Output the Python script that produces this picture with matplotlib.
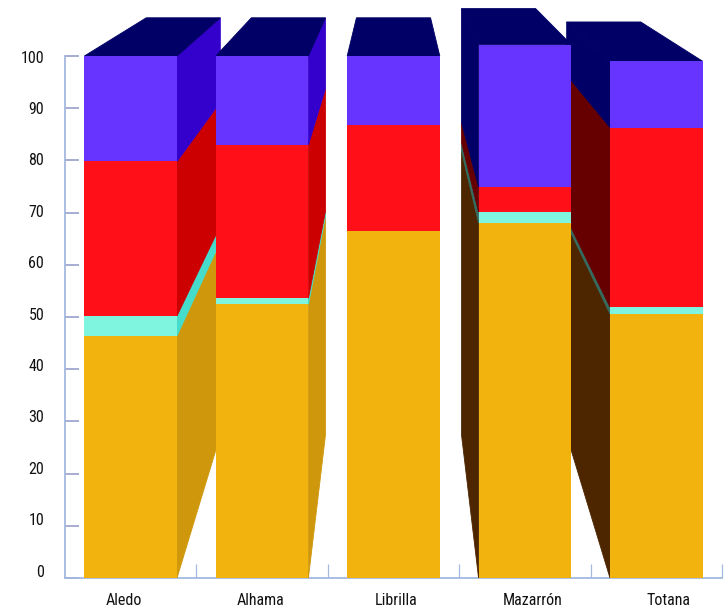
#!/usr/bin/env python3
"""Stacked 3D perspective columns, drawn by hand on a flat axes."""

import matplotlib
matplotlib.use("Agg")
import matplotlib.pyplot as plt
from matplotlib.transforms import ScaledTranslation

WIDTH, HEIGHT = 724, 610

towns = ["Aledo", "Alhama", "Librilla", "Mazarrón", "Totana"]

# Stack segments, bottom to top
orange = [46.4, 52.4, 66.4, 68.0, 50.6]
teal   = [3.8, 1.2, 0.0, 2.1, 1.3]
red    = [29.6, 29.4, 20.3, 4.8, 34.4]
purple = [20.2, 17.0, 13.3, 27.3, 12.7]

y_ticks = [0, 10, 20, 30, 40, 50, 60, 70, 80, 90, 100]

FRONT      = ["#f3b30f", "#7ff5e0", "#ff1018", "#6633ff"]
SIDE_RIGHT = ["#cf980c", "#45dccb", "#cc0000", "#3300cc"]
SIDE_LEFT  = ["#4d2600", "#336b5f", "#660000", "#000066"]
TOP        = "#000066"
AXIS_COL   = "#a3b9e0"
TICK_COL   = "#8f96c8"
TEXT_COL   = "#111111"

BAR_W   = 0.705
DEPTH   = 0.8     # back face scale towards the vanishing point
VANISH  = (2.0, 136.6)
Z       = 3

plt.rcParams["font.family"] = ["Roboto Condensed", "DejaVu Sans"]


def back(x, y):
    return (VANISH[0] + DEPTH * (x - VANISH[0]),
            VANISH[1] + DEPTH * (y - VANISH[1]))


def draw_column(ax, i):
    xl, xr = i - BAR_W / 2, i + BAR_W / 2
    segments = [orange[i], teal[i], red[i], purple[i]]

    # sides first, front goes over them
    if i != 2:
        edge = xr if i < 2 else xl
        colours = SIDE_RIGHT if i < 2 else SIDE_LEFT
        base = 0.0
        for seg, col in zip(segments, colours):
            if seg > 0:
                b0, b1 = back(edge, base), back(edge, base + seg)
                ax.fill([edge, b0[0], b1[0], edge], [base, b0[1], b1[1], base + seg],
                        facecolor=col, edgecolor=col, lw=0.6, clip_on=False, zorder=Z)
            base += seg

    total = sum(segments)
    bl, br = back(xl, total), back(xr, total)
    ax.fill([xl, xr, br[0], bl[0]], [total, total, br[1], bl[1]],
            facecolor=TOP, edgecolor=TOP, lw=0.6, clip_on=False, zorder=Z)

    bottom = 0.0
    for seg, col in zip(segments, FRONT):
        if seg > 0:
            ax.bar(i, seg, BAR_W, bottom=bottom, color=col, lw=0,
                   clip_on=False, zorder=Z)
        bottom += seg


def main():
    fig = plt.figure(figsize=(WIDTH / 100, HEIGHT / 100), dpi=100)
    ax = fig.add_axes([65 / WIDTH, 32 / HEIGHT, 657 / WIDTH, 522 / HEIGHT])

    # outer columns first so the ones near the middle overlap them
    for i in [0, 1, 4, 3, 2]:
        draw_column(ax, i)

    ax.set_xlim(-0.5, 4.5)
    ax.set_ylim(0, 100)

    for side in ("top", "right"):
        ax.spines[side].set_visible(False)
    for side in ("left", "bottom"):
        ax.spines[side].set_color(AXIS_COL)
        ax.spines[side].set_linewidth(1.3)

    ax.set_yticks(y_ticks)
    ax.set_yticklabels([str(v) for v in y_ticks], fontsize=11.5, color=TEXT_COL)
    ax.tick_params(axis="y", direction="in", length=10, width=1.1, color=TICK_COL, pad=15)

    ax.set_xticks(range(len(towns)))
    ax.set_xticklabels(towns, fontsize=11.5, color=TEXT_COL)
    ax.set_xticks([i + 0.5 for i in range(len(towns))], minor=True)
    ax.tick_params(axis="x", which="major", length=0, pad=11)
    ax.tick_params(axis="x", which="minor", direction="in", length=10, width=0.9, color=AXIS_COL)

    # labels in the original sit slightly off their ticks
    for v, lab in zip(y_ticks, ax.get_yticklabels()):
        dy = (7.3 - 0.079 * v) / 100
        lab.set_transform(lab.get_transform() + ScaledTranslation(0, dy, fig.dpi_scale_trans))
    for i, lab in enumerate(ax.get_xticklabels()):
        dx = (2.7 + (i - 2) * 4.8) / 100
        lab.set_transform(lab.get_transform() + ScaledTranslation(dx, 0, fig.dpi_scale_trans))

    fig.savefig("out.png", dpi=100)
    plt.close(fig)


if __name__ == "__main__":
    main()
